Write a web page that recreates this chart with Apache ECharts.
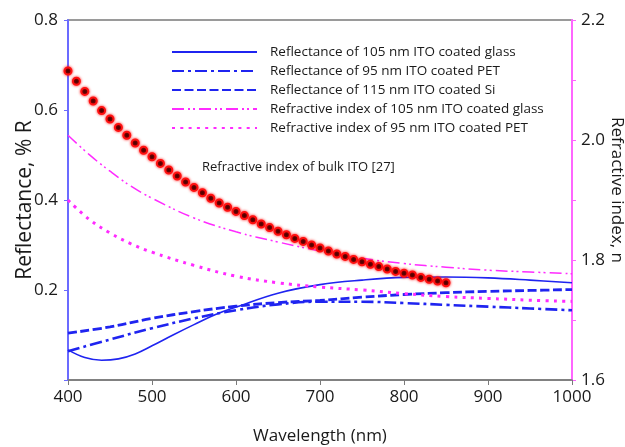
<!DOCTYPE html>
<html>
<head>
<meta charset="utf-8">
<script src="https://cdn.jsdelivr.net/npm/echarts@6/dist/echarts.min.js"></script>
<style>
html,body{margin:0;padding:0;background:#fff;}
#chart{width:625px;height:447px;}
</style>
</head>
<body>
<div id="chart"></div>
<script>
// ---- Data ----
const seriesNames = [
  'Reflectance of 105 nm ITO coated glass',
  'Reflectance of 95 nm ITO coated PET',
  'Reflectance of 115 nm ITO coated Si',
  'Refractive index of 105 nm ITO coated glass',
  'Refractive index of 95 nm ITO coated PET'
];
const bulkLabel = 'Refractive index of bulk ITO [27]';

const wlGlassR = [400,420,440,460,480,500,525,550,575,600,650,700,750,800,850,900,950,1000];
const rGlass   = [0.067,0.050,0.044,0.047,0.058,0.076,0.100,0.123,0.145,0.162,0.193,0.212,0.222,0.228,0.229,0.227,0.222,0.216];

const wl50   = [400,450,500,550,600,650,700,750,800,850,900,950,1000];
const rPET   = [0.064,0.090,0.115,0.137,0.155,0.168,0.174,0.174,0.171,0.167,0.163,0.159,0.155];
const rSi    = [0.104,0.118,0.137,0.152,0.164,0.172,0.177,0.184,0.190,0.194,0.197,0.199,0.201];

const wlN    = [400,425,450,475,500,550,600,650,700,750,800,850,900,950,1000];
const nGlass = [2.008,1.976,1.948,1.923,1.903,1.870,1.847,1.830,1.815,1.803,1.794,1.788,1.783,1.780,1.777];
const nPET   = [1.900,1.868,1.845,1.827,1.813,1.791,1.773,1.762,1.755,1.750,1.744,1.739,1.736,1.733,1.731];

const wlBulk = [400,410,420,430,440,450,460,470,480,490,500,510,520,530,540,550,560,570,580,590,
                600,610,620,630,640,650,660,670,680,690,700,710,720,730,740,750,760,770,780,790,
                800,810,820,830,840,850];
const nBulk  = [2.115,2.098,2.081,2.065,2.049,2.035,2.021,2.008,1.995,1.983,1.972,1.961,1.950,1.940,1.930,
                1.921,1.912,1.903,1.895,1.888,1.881,1.874,1.867,1.860,1.854,1.848,1.842,1.836,1.831,1.825,
                1.820,1.815,1.810,1.806,1.801,1.797,1.793,1.789,1.785,1.781,1.778,1.775,1.771,1.768,1.765,1.762];

const xTicks = {min:400, max:1000, step:100};
const yLeft  = {min:0, max:0.8, step:0.2};
const yRight = {min:1.6, max:2.2, step:0.1};

const zip = (xs, ys) => xs.map((x,i)=>[x, ys[i]]);

// ---- Chart ----
const FONT = '"Open Sans", "Noto Sans", sans-serif';
const BLUE = '#1f24f0';
const MAG = '#ff2bff';
const chart = echarts.init(document.getElementById('chart'), null, {renderer:'canvas'});

const lineBase = {type:'line', showSymbol:false, symbol:'none', smooth:0.4, z:3};

chart.setOption({
  animation:false,
  backgroundColor:'#ffffff',
  textStyle:{fontFamily:FONT},
  grid:{left:68, right:53, top:20, bottom:67, outerBoundsMode:'none', containLabel:false,
        show:true, borderColor:'#7a7a7a', borderWidth:1.5, backgroundColor:'transparent'},
  legend:{
    data:seriesNames,
    orient:'vertical', left:166, top:40,
    itemWidth:85, itemHeight:14, itemGap:5,
    itemStyle:{opacity:0},
    textStyle:{fontFamily:FONT, fontSize:13.5, color:'#1a1a1a', padding:[0,0,0,8]},
    selectedMode:false
  },
  xAxis:{
    type:'value', min:xTicks.min, max:xTicks.max, interval:xTicks.step,
    name:'Wavelength (nm)', nameLocation:'middle', nameGap:48, nameMoveOverlap:false,
    nameTextStyle:{fontFamily:FONT, fontSize:17, color:'#1a1a1a'},
    axisLine:{lineStyle:{color:'#7a7a7a', width:1.5}},
    axisTick:{lineStyle:{color:'#7a7a7a'}, length:5},
    axisLabel:{fontFamily:FONT, fontSize:17, color:'#1a1a1a', margin:9, formatter:v => String(v)},
    splitLine:{show:false}
  },
  yAxis:[{
    type:'value', min:yLeft.min, max:yLeft.max, interval:yLeft.step, position:'left',
    name:'Reflectance, % R', nameLocation:'middle', nameGap:32, nameRotate:90, nameMoveOverlap:false,
    nameTextStyle:{fontFamily:FONT, fontSize:21, color:'#1a1a1a'},
    axisLine:{show:true, lineStyle:{color:'#6b6bff', width:2}},
    axisTick:{show:true, length:4, lineStyle:{color:'#6b6bff'}},
    axisLabel:{fontFamily:FONT, fontSize:17, color:'#1a1a1a', margin:10,
      formatter:v => (Math.abs(v) < 1e-9 ? '' : v.toFixed(1))},
    splitLine:{show:false}
  },{
    type:'value', min:yRight.min, max:yRight.max, interval:yRight.step, position:'right',
    name:'Refractive index, n', nameLocation:'middle', nameGap:36, nameRotate:-90, nameMoveOverlap:false,
    nameTextStyle:{fontFamily:FONT, fontSize:17, color:'#1a1a1a', padding:[0,20,0,0]},
    axisLine:{show:true, lineStyle:{color:'#ff66ff', width:2}},
    axisTick:{show:true, length:4, lineStyle:{color:'#ff66ff'}},
    axisLabel:{fontFamily:FONT, fontSize:17, color:'#1a1a1a', margin:9,
      formatter:v => (Math.round(v*10) % 2 === 0 ? v.toFixed(1) : '')},
    splitLine:{show:false}
  }],
  graphic:[{
    type:'text', left:202, top:161,
    style:{text:bulkLabel, font:'13px "Open Sans", "Noto Sans", sans-serif', fill:'#1a1a1a'}
  }],
  series:[
    Object.assign({}, lineBase, {name:seriesNames[0], yAxisIndex:0, data:zip(wlGlassR, rGlass),
      lineStyle:{color:BLUE, width:1.6}, itemStyle:{color:BLUE}}),
    Object.assign({}, lineBase, {name:seriesNames[1], yAxisIndex:0, data:zip(wl50, rPET),
      lineStyle:{color:BLUE, width:2.6, type:[12,4,3,4]}, itemStyle:{color:BLUE}}),
    Object.assign({}, lineBase, {name:seriesNames[2], yAxisIndex:0, data:zip(wl50, rSi),
      lineStyle:{color:BLUE, width:2.8, type:[9,3.5]}, itemStyle:{color:BLUE}}),
    Object.assign({}, lineBase, {name:seriesNames[3], yAxisIndex:1, data:zip(wlN, nGlass),
      lineStyle:{color:MAG, width:1.5, type:[12,4,2,3,2,4]}, itemStyle:{color:MAG}}),
    Object.assign({}, lineBase, {name:seriesNames[4], yAxisIndex:1, data:zip(wlN, nPET),
      lineStyle:{color:MAG, width:3, type:[3,5.3]}, itemStyle:{color:MAG}}),
    {
      name:bulkLabel, type:'line', yAxisIndex:1, data:zip(wlBulk, nBulk),
      showSymbol:true, symbol:'circle', symbolSize:7, z:4,
      lineStyle:{opacity:0},
      itemStyle:{color:'#2a0000', borderColor:'#ff1010', borderWidth:2, shadowBlur:3, shadowColor:'rgba(255,0,0,0.8)'}
    }
  ]
});
</script>
</body>
</html>
